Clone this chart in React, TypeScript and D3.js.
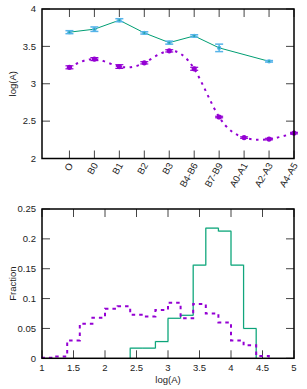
import React from "react";
import * as d3 from "d3";

const categories = ["O", "B0", "B1", "B2", "B3", "B4-B6", "B7-B9", "A0-A1", "A2-A3", "A4-A5"];
const tealValues: (number | null)[] = [3.69, 3.73, 3.85, 3.68, 3.55, 3.64, 3.48, null, 3.30, null];
const tealErrors: (number | null)[] = [0.02, 0.03, 0.02, 0.015, 0.02, 0.015, 0.05, null, 0.01, null];
const purpleValues = [3.22, 3.33, 3.23, 3.28, 3.44, 3.20, 2.555, 2.28, 2.26, 2.34];
const purpleErrors = [0.02, 0.02, 0.025, 0.015, 0.015, 0.02, 0.01, 0.01, 0.01, 0.01];
const topYTicks = [2, 2.5, 3, 3.5, 4];

const binWidth = 0.2;
const purpleBinStart = 1.0;
const purpleHist = [0.001, 0.003, 0.030, 0.058, 0.068, 0.083, 0.087, 0.073, 0.070, 0.081, 0.093, 0.067, 0.091, 0.075, 0.060, 0.030, 0.022, 0.004];
const tealBinStart = 2.4;
const tealHist = [0.017, 0.017, 0.028, 0.067, 0.072, 0.156, 0.218, 0.213, 0.156, 0.050];
const botXTicks = [1, 1.5, 2, 2.5, 3, 3.5, 4, 4.5, 5];
const botYTicks = [0, 0.05, 0.1, 0.15, 0.2, 0.25];

const TEAL = "#009e73";
const SKY = "#56b4e9";
const PURPLE = "#9400d3";
const FONT = "'Liberation Sans', Arial, sans-serif";
const TXT = "#222";

const L = 42, R = 294;
const T1 = 9, B1 = 158.5;
const T2 = 209, B2 = 358.3;
const TICK = 8;

function histPoints(start: number, vals: number[]): [number, number][] {
  const pts: [number, number][] = [[start, 0]];
  vals.forEach((v, i) => pts.push([start + i * binWidth, v]));
  const end = start + vals.length * binWidth;
  pts.push([end, vals[vals.length - 1]]);
  pts.push([end, 0]);
  return pts;
}

export default function App() {
  const x1 = d3.scaleLinear().domain([-1.1, 9]).range([L, R]);
  const y1 = d3.scaleLinear().domain([2, 4]).range([B1, T1]);
  const x2 = d3.scaleLinear().domain([1, 5]).range([L, R]);
  const y2 = d3.scaleLinear().domain([0, 0.25]).range([B2, T2]);

  const tealPts = tealValues
    .map((v, i) => (v == null ? null : ([i, v] as [number, number])))
    .filter((p): p is [number, number] => p != null);
  const tealLine = d3.line<[number, number]>().x((d) => x1(d[0])).y((d) => y1(d[1]))(tealPts) || "";
  const purplePts = purpleValues.map((v, i) => [i, v] as [number, number]);
  const purpleLine = d3
    .line<[number, number]>()
    .x((d) => x1(d[0]))
    .y((d) => y1(d[1]))
    .curve(d3.curveNatural)(purplePts) || "";

  const stepLine = d3
    .line<[number, number]>()
    .x((d) => x2(d[0]))
    .y((d) => y2(d[1]))
    .curve(d3.curveStepAfter);
  const purpleHistPath = stepLine(histPoints(purpleBinStart, purpleHist)) || "";
  const tealHistPath = stepLine(histPoints(tealBinStart, tealHist)) || "";

  const cap = 4;

  return (
    <div style={{ position: "fixed", left: 0, top: 0 }}>
      <svg width={307} height={389} style={{ display: "block" }} fontFamily={FONT}>
        <rect width={307} height={389} fill="#fff" />
        {/* ===== Top plot ===== */}
        {topYTicks.map((t) => (
          <g key={"ty" + t}>
            <line x1={L} x2={L + TICK} y1={y1(t)} y2={y1(t)} stroke="#444" strokeWidth={1} />
            <line x1={R} x2={R - TICK} y1={y1(t)} y2={y1(t)} stroke="#444" strokeWidth={1} />
            <text x={36} y={y1(t)} dy="0.35em" textAnchor="end" fontSize={9.5} fill={TXT}>
              {String(t)}
            </text>
          </g>
        ))}
        {categories.map((c, i) => (
          <g key={"tx" + c}>
            <line x1={x1(i)} x2={x1(i)} y1={B1} y2={B1 - TICK} stroke="#444" strokeWidth={1} />
            <line x1={x1(i)} x2={x1(i)} y1={T1} y2={T1 + TICK} stroke="#444" strokeWidth={1} />
            <text
              transform={`translate(${x1(i) + 1},${163.5}) rotate(-60)`}
              textAnchor="end"
              dominantBaseline="central"
              fontSize={9.5}
              fill={TXT}
            >
              {c}
            </text>
          </g>
        ))}
        <text
          transform={`translate(${12},${(T1 + B1) / 2}) rotate(-90)`}
          textAnchor="middle"
          dominantBaseline="central"
          fontSize={9.5}
          fill={TXT}
        >
          log(A)
        </text>
        {/* teal series */}
        <path d={tealLine} fill="none" stroke={TEAL} strokeWidth={1} />
        {tealValues.map((v, i) => {
          const e = tealErrors[i];
          if (v == null || e == null) return null;
          const cx = x1(i);
          return (
            <g key={"te" + i}>
              <line x1={cx} x2={cx} y1={y1(v - e)} y2={y1(v + e)} stroke={SKY} strokeWidth={1.5} />
              <line x1={cx - cap} x2={cx + cap} y1={y1(v - e)} y2={y1(v - e)} stroke={SKY} strokeWidth={1.5} />
              <line x1={cx - cap} x2={cx + cap} y1={y1(v + e)} y2={y1(v + e)} stroke={SKY} strokeWidth={1.5} />
              <circle cx={cx} cy={y1(v)} r={2.2} fill={SKY} />
              <circle cx={cx} cy={y1(v)} r={1} fill={TEAL} opacity={0.6} />
            </g>
          );
        })}
        {/* purple series */}
        <path d={purpleLine} fill="none" stroke={PURPLE} strokeWidth={2} strokeDasharray="2.5,4.5" />
        {purpleValues.map((v, i) => {
          const e = purpleErrors[i];
          const cx = x1(i);
          return (
            <g key={"pe" + i}>
              <line x1={cx} x2={cx} y1={y1(v - e)} y2={y1(v + e)} stroke={PURPLE} strokeWidth={1.2} />
              <line x1={cx - cap} x2={cx + cap} y1={y1(v - e)} y2={y1(v - e)} stroke={PURPLE} strokeWidth={1.2} />
              <line x1={cx - cap} x2={cx + cap} y1={y1(v + e)} y2={y1(v + e)} stroke={PURPLE} strokeWidth={1.2} />
              <circle cx={cx} cy={y1(v)} r={2.6} fill={PURPLE} />
            </g>
          );
        })}
        <rect x={L} y={T1} width={R - L} height={B1 - T1} fill="none" stroke="#000" strokeWidth={1.5} />

        {/* ===== Bottom plot ===== */}
        {botYTicks.map((t) => (
          <g key={"by" + t}>
            <line x1={L} x2={L + TICK} y1={y2(t)} y2={y2(t)} stroke="#444" strokeWidth={1} />
            <line x1={R} x2={R - TICK} y1={y2(t)} y2={y2(t)} stroke="#444" strokeWidth={1} />
            <text x={36} y={y2(t)} dy="0.35em" textAnchor="end" fontSize={9.5} fill={TXT}>
              {String(t)}
            </text>
          </g>
        ))}
        {botXTicks.map((t) => (
          <g key={"bx" + t}>
            <line x1={x2(t)} x2={x2(t)} y1={B2} y2={B2 - TICK} stroke="#444" strokeWidth={1} />
            <line x1={x2(t)} x2={x2(t)} y1={T2} y2={T2 + TICK} stroke="#444" strokeWidth={1} />
            <text x={x2(t)} y={368} dy="0.35em" textAnchor="middle" fontSize={9.5} fill={TXT}>
              {String(t)}
            </text>
          </g>
        ))}
        <text
          transform={`translate(${12},${(T2 + B2) / 2}) rotate(-90)`}
          textAnchor="middle"
          dominantBaseline="central"
          fontSize={9.5}
          fill={TXT}
        >
          Fraction
        </text>
        <text x={(L + R) / 2} y={383} textAnchor="middle" fontSize={9.5} fill={TXT}>
          log(A)
        </text>
        <path d={tealHistPath} fill="none" stroke="#b4e8d8" strokeWidth={1.6} />
        <path d={tealHistPath} fill="none" stroke={TEAL} strokeWidth={1} />
        <path d={purpleHistPath} fill="none" stroke={PURPLE} strokeWidth={2} strokeDasharray="3.5,4" />
        <rect x={L} y={T2} width={R - L} height={B2 - T2} fill="none" stroke="#000" strokeWidth={1.5} />
      </svg>
    </div>
  );
}
